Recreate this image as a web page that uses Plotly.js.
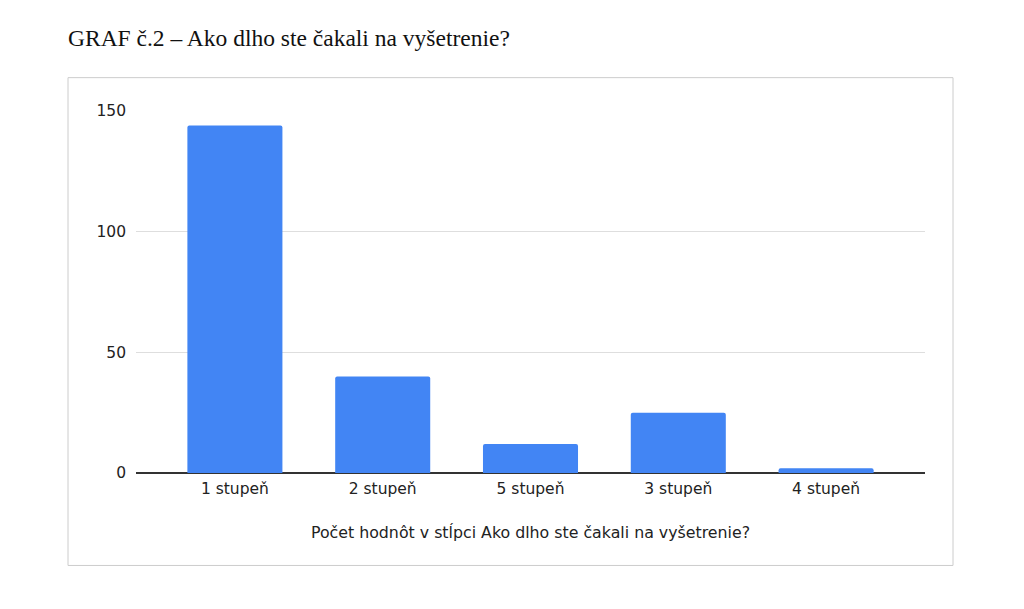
<!DOCTYPE html>
<html>
<head>
<meta charset="utf-8">
<script src="https://cdn.plot.ly/plotly-3.0.1.min.js"></script>
<style>
  html, body { margin: 0; padding: 0; background: #ffffff; }
  #chart { width: 1024px; height: 609px; }
</style>
</head>
<body>
<div id="chart"></div>
<script>
const categories = ["1 stupeň", "2 stupeň", "5 stupeň", "3 stupeň", "4 stupeň"];
const counts = [144, 40, 12, 25, 2];
const yTickValues = [0, 50, 100, 150];
const chartTitle = "GRAF č.2 – Ako dlho ste čakali na vyšetrenie?";
const xAxisTitle = "Počet hodnôt v stĺpci Ako dlho ste čakali na vyšetrenie?";

const W = 1024, H = 609;
const L = 136, R = 99, T = 111.3, B = 136.3;
const pw = W - L - R, ph = H - T - B;
function px(x) { return (x - L) / pw; }
function py(y) { return (H - B - y) / ph; }

const trace = {
  type: "bar",
  x: categories,
  y: counts,
  marker: { color: "#4285F4", cornerradius: 2 },
  hoverinfo: "x+y"
};

const sideUnits = 25 / 147.75;
const layout = {
  width: W,
  height: H,
  margin: { l: L, r: R, t: T, b: B, pad: 0 },
  paper_bgcolor: "#ffffff",
  plot_bgcolor: "#ffffff",
  showlegend: false,
  bargap: 0.357,
  font: { family: "DejaVu Sans, Arial, sans-serif", color: "#222222", size: 15.5 },
  title: {
    text: chartTitle,
    font: { family: "Liberation Serif, Times New Roman, serif", size: 23.5, color: "#111111" },
    xref: "container", yref: "container",
    x: 68 / W, xanchor: "left",
    y: 1 - 38 / H, yanchor: "middle"
  },
  xaxis: {
    type: "category",
    range: [-0.5 - sideUnits, categories.length - 0.5 + sideUnits],
    showgrid: false,
    showline: false,
    zeroline: false,
    ticks: "",
    ticklabelstandoff: 4,
    tickfont: { size: 15.5, color: "#222222" },
    title: { text: xAxisTitle, font: { size: 15.8, color: "#222222" }, standoff: 30 },
    fixedrange: true
  },
  yaxis: {
    range: [0, 150],
    tickvals: yTickValues,
    ticktext: yTickValues.map(String),
    showgrid: true,
    gridcolor: "#dedede",
    gridwidth: 1,
    zeroline: true,
    zerolinecolor: "#333333",
    zerolinewidth: 1.2,
    showline: false,
    ticks: "",
    ticklabelstandoff: 9,
    tickfont: { size: 15.5, color: "#222222" },
    fixedrange: true
  },
  shapes: [{
    type: "rect",
    xref: "paper", yref: "paper",
    x0: px(68), x1: px(953),
    y0: py(565), y1: py(78),
    line: { color: "#cccccc", width: 1 },
    fillcolor: "rgba(0,0,0,0)",
    layer: "below"
  }]
};

Plotly.newPlot("chart", [trace], layout, { displayModeBar: false, staticPlot: true });
</script>
</body>
</html>
